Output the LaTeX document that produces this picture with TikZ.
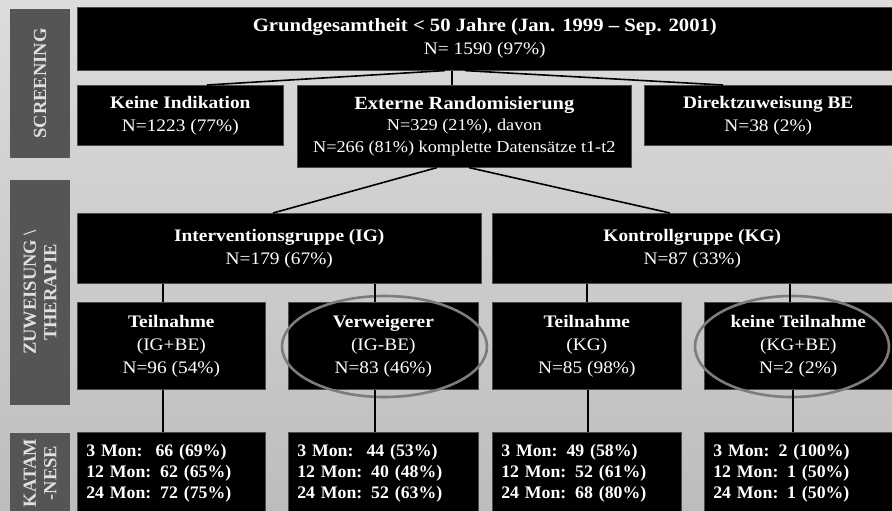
\documentclass[tikz,border=0pt]{standalone}
\usepackage{fontspec}
\setmainfont[FakeStretch=1.1]{Liberation Serif}
\newfontfamily\sidefont{Liberation Serif}
\newfontfamily\listfont[FakeStretch=1.01]{Liberation Serif}
\usetikzlibrary{shapes.geometric}
\definecolor{bgtop}{HTML}{DCDCDC}
\definecolor{bgbot}{HTML}{BDBDBD}
\definecolor{sidegray}{HTML}{555555}
\definecolor{ringgray}{HTML}{7C7C7C}
\begin{document}
\begin{tikzpicture}[x=1pt,y=-1pt,
  box/.style={fill=black, draw=black!70, line width=0.6pt, text=white, inner sep=0pt,
    align=center, anchor=north west, font=\fontsize{17.6}{23}\selectfont},
  listbox/.style={box, align=left, inner xsep=9pt, font=\listfont\bfseries\fontsize{17.6}{21}\selectfont},
  side/.style={fill=sidegray, text=white!88!black, rotate=90, inner sep=0pt,
    align=center, font=\sidefont\bfseries\fontsize{18.5}{20.5}\selectfont},
  conn/.style={line width=1.6pt, black},
  ring/.style={draw=ringgray, line width=2.6pt, ellipse, inner sep=0pt}
]
\shade[top color=bgtop, bottom color=bgbot] (0,0) rectangle (892,511);
\useasboundingbox (0,0) rectangle (892,511);

% side labels
\node[side, minimum width=149, minimum height=60] (s1) at (40,83.5) {SCREENING};
\node[side, minimum width=225, minimum height=60] (s2) at (40,292.5) {ZUWEISUNG \textbackslash\\THERAPIE};
\node[side, minimum width=80, minimum height=60] (s3) at (40,473) {KATAM\\-NESE};

% level 1
\node[box, minimum width=815, minimum height=63] (top) at (77,7)
  {{\fontsize{18.8}{23}\selectfont\bfseries Grundgesamtheit < 50 Jahre (Jan. 1999 – Sep. 2001)}\\N= 1590 (97\%)};

% level 2
\node[box, minimum width=206, minimum height=60] (keine) at (77,85)
  {\textbf{Keine Indikation}\\N=1223 (77\%)};
\node[box, minimum width=334, minimum height=82, font=\fontsize{16.6}{21.5}\selectfont] (ext) at (297,85)
  {{\fontsize{18.6}{21.5}\selectfont\bfseries Externe Randomisierung}\\N=329 (21\%), davon\\N=266 (81\%) komplette Datensätze t1-t2};
\node[box, minimum width=248, minimum height=60] (direkt) at (644,85)
  {\textbf{Direktzuweisung BE}\\N=38 (2\%)};

% level 3
\node[box, minimum width=404, minimum height=70] (ig) at (77,213)
  {\textbf{Interventionsgruppe (IG)}\\N=179 (67\%)};
\node[box, minimum width=400, minimum height=70] (kg) at (492,213)
  {\textbf{Kontrollgruppe (KG)}\\N=87 (33\%)};

% level 4
\node[box, minimum width=188, minimum height=87] (t1) at (77,302)
  {\textbf{Teilnahme}\\(IG+BE)\\N=96 (54\%)};
\node[box, minimum width=190, minimum height=87] (v1) at (288,302)
  {\textbf{Verweigerer}\\(IG-BE)\\N=83 (46\%)};
\node[box, minimum width=189, minimum height=87] (t2) at (492,302)
  {\textbf{Teilnahme}\\(KG)\\N=85 (98\%)};
\node[box, minimum width=188, minimum height=87] (k2) at (704,302)
  {\textbf{keine Teilnahme}\\(KG+BE)\\N=2 (2\%)};

% level 5
\node[listbox, text width=170, minimum height=81] (b1) at (77,432)
  {3 Mon:\hspace{13pt}66 (69\%)\\12 Mon: 62 (65\%)\\24 Mon: 72 (75\%)};
\node[listbox, text width=172, minimum height=81] (b2) at (288,432)
  {3 Mon:\hspace{13pt}44 (53\%)\\12 Mon: 40 (48\%)\\24 Mon: 52 (63\%)};
\node[listbox, text width=171, minimum height=81] (b3) at (492,432)
  {3 Mon:\hspace{9pt}49 (58\%)\\12 Mon: 52 (61\%)\\24 Mon: 68 (80\%)};
\node[listbox, text width=170, minimum height=81] (b4) at (704,432)
  {3 Mon:\hspace{9pt}2 (100\%)\\12 Mon: 1 (50\%)\\24 Mon: 1 (50\%)};

% rings
\node[ring, minimum width=205, minimum height=101] (e1) at (384.5,346.5) {};
\node[ring, minimum width=194, minimum height=101] (e2) at (792,346.5) {};

% connectors
\draw[conn] ([xshift=368pt]top.south west) -- ([xshift=130pt]keine.north west);
\draw[conn] ([xshift=375pt]top.south west) -- ([xshift=155pt]ext.north west);
\draw[conn] ([xshift=388pt]top.south west) -- ([xshift=79pt]direkt.north west);

\draw[conn] ([xshift=140pt]ext.south west) -- ([xshift=196pt]ig.north west);
\draw[conn] ([xshift=172pt]ext.south west) -- ([xshift=178pt]kg.north west);

\draw[conn] ([xshift=86pt]ig.south west) -- ([xshift=86pt]t1.north west);
\draw[conn] ([xshift=298pt]ig.south west) -- ([xshift=87pt]v1.north west);
\draw[conn] ([xshift=95pt]kg.south west) -- ([xshift=95pt]t2.north west);
\draw[conn] ([xshift=298pt]kg.south west) -- ([xshift=86pt]k2.north west);

\draw[conn] ([xshift=86pt]t1.south west) -- ([xshift=86pt]b1.north west);
\draw[conn] ([xshift=87pt]v1.south west) -- ([xshift=87pt]b2.north west);
\draw[conn] ([xshift=96pt]t2.south west) -- ([xshift=96pt]b3.north west);
\draw[conn] ([xshift=89pt]k2.south west) -- ([xshift=89pt]b4.north west);
\end{tikzpicture}
\end{document}
